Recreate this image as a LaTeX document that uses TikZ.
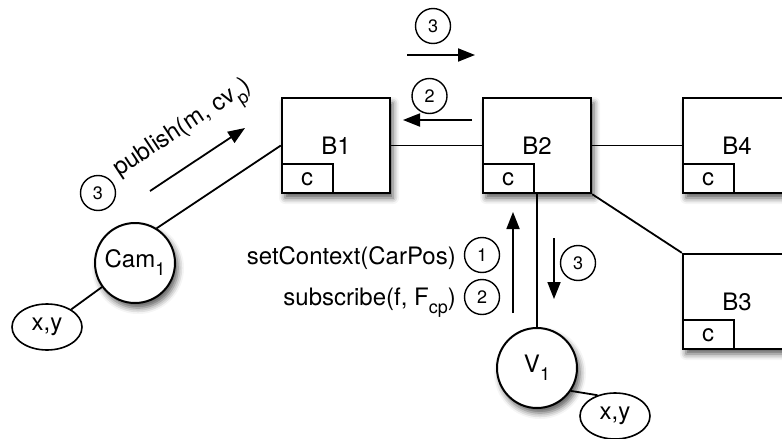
\documentclass[tikz,border=0pt]{standalone}
\usepackage{fontspec}
\setmainfont{TeX Gyre Heros}
\usetikzlibrary{positioning,shapes.geometric,shadows.blur,arrows.meta}

% lowered index, larger than \textsubscript
\newcommand\lowidx[1]{\raisebox{-8pt}{\fontsize{18}{20}\selectfont #1}}

\tikzset{
  soft/.style={blur shadow={shadow xshift=3pt, shadow yshift=-5pt, shadow blur radius=6pt, shadow opacity=65}},
  broker/.style={draw, line width=2.4pt, fill=white, minimum width=108pt, minimum height=95pt, inner sep=0pt, soft},
  cbox/.style={draw, line width=1.8pt, minimum width=51pt, minimum height=29pt, inner sep=0pt, anchor=south west},
  client/.style={circle, draw, line width=2pt, fill=white, minimum size=80pt, inner sep=0pt, soft},
  loc/.style={ellipse, draw, line width=1.6pt, fill=white, minimum width=70pt, minimum height=46pt, inner sep=0pt},
  stepnum/.style={circle, draw, line width=1.4pt, minimum size=35pt, inner sep=0pt, font=\fontsize{18}{20}\selectfont},
  link/.style={line width=1.8pt},
  msg/.style={->, line width=1.8pt},
}

\begin{document}
\begin{tikzpicture}[x=1pt, y=-1pt, >={Triangle[length=17pt,width=13pt]}, font=\fontsize{24}{28}\selectfont]
\useasboundingbox (0,0) rectangle (782,439);

% brokers
\node[broker] (b1) at (336,145.5) {B1};
\node[broker] (b2) at (537,145.5) {B2};
\node[broker] (b4) at (737,145.5) {B4};
\node[broker] (b3) at (737,301.5) {B3};
\node[cbox] (c1) at (b1.south west) {c};
\node[cbox] (c2) at (b2.south west) {c};
\node[cbox] (c4) at (b4.south west) {c};
\node[cbox] (c3) at (b3.south west) {c};

% camera and vehicle
\node[client] (cam) at (135,263) {Cam\lowidx{1}};
\node[client] (v1) at (537,368) {V\lowidx{1}};
\node[loc] (camxy) at (47,327) {x,y};
\node[loc] (vxy) at (615,416) {x,y};

% links
\draw[link] (b1) -- (b2);
\draw[link] (b2) -- (b4);
\draw[link] (b2.south east) -- (b3.north west);
\draw[link] (b2.south) -- (v1.north);
\draw[link] (cam.58) -- (b1.west);
\draw[link] (camxy) -- (cam);
\draw[link] (v1.-34) -- (vxy.130);

% messages
\coordinate (fwdS) at (407,55);
\coordinate (fwdE) at (475,55);
\coordinate (subS) at (472,120);
\coordinate (subE) at (403,120);
\coordinate (pubS) at (150,191);
\coordinate (pubE) at (245,128);
\coordinate (upS) at (513,313);
\coordinate (upE) at (513,212);
\coordinate (dnS) at (554,238);
\coordinate (dnE) at (554,299);
\draw[msg] (fwdS) -- (fwdE);
\draw[msg] (subS) -- (subE);
\draw[msg] (pubS) -- (pubE);
\draw[msg] (upS) -- (upE);
\draw[msg] (dnS) -- (dnE);

\node[stepnum] (n3a) at (433,26) {3};
\node[stepnum] (n2a) at (429.5,96) {2};
\node[stepnum] (n3b) at (98,193) {3};
\node[stepnum] (n1) at (482,255) {1};
\node[stepnum] (n2b) at (482,297) {2};
\node[stepnum] (n3c) at (578,263) {3};

% message labels
\node[anchor=base, rotate=33.5, inner sep=0pt] (pub) at (186,133) {publish(m, cv\lowidx{p})};
\node[anchor=base east, inner sep=0pt] (ctx) at (456,264) {setContext(CarPos)};
\node[anchor=base east, inner sep=0pt] (sub) at (456,305) {subscribe(f, F\lowidx{cp})};
\end{tikzpicture}
\end{document}
